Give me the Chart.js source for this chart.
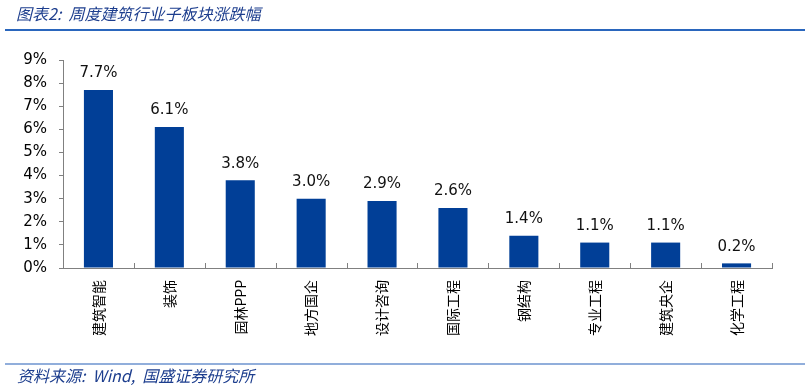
<!DOCTYPE html>
<html>
<head>
<meta charset="utf-8">
<script src="https://cdn.jsdelivr.net/npm/chart.js@4"></script>
<style>
  html, body { margin: 0; padding: 0; background: #fff; }
  #wrap { width: 810px; height: 388px; }
</style>
</head>
<body>
<div id="wrap"><canvas id="myChart" width="810" height="388"></canvas></div>
<script>
const categories = ['建筑智能', '装饰', '园林PPP', '地方国企', '设计咨询', '国际工程', '钢结构', '专业工程', '建筑央企', '化学工程'];
const changePct = [7.7, 6.1, 3.8, 3.0, 2.9, 2.6, 1.4, 1.1, 1.1, 0.2];
const yTicks = [0, 1, 2, 3, 4, 5, 6, 7, 8, 9];

const titleText = '图表2:  周度建筑行业子板块涨跌幅';
const sourceText = '资料来源:  Wind,  国盛证券研究所';

// title, rules, footer, inner x ticks and value labels
const decor = {
  id: 'decor',
  afterDraw(chart) {
    const ctx = chart.ctx;
    const area = chart.chartArea;
    const x = chart.scales.x;
    ctx.save();

    ctx.fillStyle = '#1d3e8e';
    ctx.textBaseline = 'middle';
    ctx.textAlign = 'left';
    ctx.font = 'italic 16px "Noto Sans CJK SC", sans-serif';
    ctx.fillText(titleText, 16, 14);
    ctx.font = 'italic 16px "Noto Sans CJK SC", sans-serif';
    ctx.fillText(sourceText, 17, 376);

    ctx.strokeStyle = '#2a66bd';
    ctx.lineWidth = 2;
    ctx.beginPath();
    ctx.moveTo(5, 30); ctx.lineTo(805, 30);
    ctx.stroke();
    ctx.strokeStyle = '#6d93cf';
    ctx.lineWidth = 1.5;
    ctx.beginPath();
    ctx.moveTo(5, 364); ctx.lineTo(805, 364);
    ctx.stroke();

    // category boundary ticks, pointing up into the plot
    ctx.strokeStyle = '#808080';
    ctx.lineWidth = 1;
    const half = (x.getPixelForTick(1) - x.getPixelForTick(0)) / 2;
    for (let i = 0; i <= categories.length; i++) {
      const px = Math.round(x.getPixelForTick(0) - half + i * half * 2) + 0.5;
      ctx.beginPath();
      ctx.moveTo(px, area.bottom);
      ctx.lineTo(px, area.bottom - 5);
      ctx.stroke();
    }

    // value labels
    ctx.fillStyle = '#111';
    ctx.font = '15px "DejaVu Sans", sans-serif';
    ctx.textAlign = 'center';
    ctx.textBaseline = 'bottom';
    const meta = chart.getDatasetMeta(0);
    meta.data.forEach((bar, i) => {
      ctx.fillText(changePct[i].toFixed(1) + '%', bar.x, bar.y - 9);
    });
    ctx.restore();
  }
};

const data = {
  labels: categories,
  datasets: [{
    data: changePct,
    backgroundColor: '#013f97',
    barPercentage: 0.41,
    categoryPercentage: 1.0
  }]
};

const config = {
  type: 'bar',
  data: data,
  options: {
    responsive: false,
    animation: false,
    devicePixelRatio: 1,
    layout: { padding: { top: 60, right: 38, left: 0, bottom: 0 } },
    plugins: { legend: { display: false }, tooltip: { enabled: false } },
    scales: {
      x: {
        grid: { display: false, drawTicks: false },
        border: { color: '#808080', width: 1 },
        ticks: {
          minRotation: 90,
          maxRotation: 90,
          padding: 12,
          color: '#000',
          font: { family: '"Noto Sans CJK SC", sans-serif', size: 14 }
        },
        afterFit(scale) { scale.height = 388 - 268; }
      },
      y: {
        min: 0,
        max: 9,
        afterBuildTicks(scale) { scale.ticks = yTicks.map(v => ({ value: v })); },
        grid: { drawOnChartArea: false, drawTicks: true, tickLength: 4, color: '#808080' },
        border: { color: '#808080', width: 1 },
        ticks: {
          padding: 12,
          color: '#000',
          font: { family: '"DejaVu Sans", sans-serif', size: 15 },
          callback: v => v + '%'
        },
        afterFit(scale) { scale.width = 63; }
      }
    }
  },
  plugins: [decor]
};

var myChart = new Chart(document.getElementById('myChart'), config);
</script>
</body>
</html>
